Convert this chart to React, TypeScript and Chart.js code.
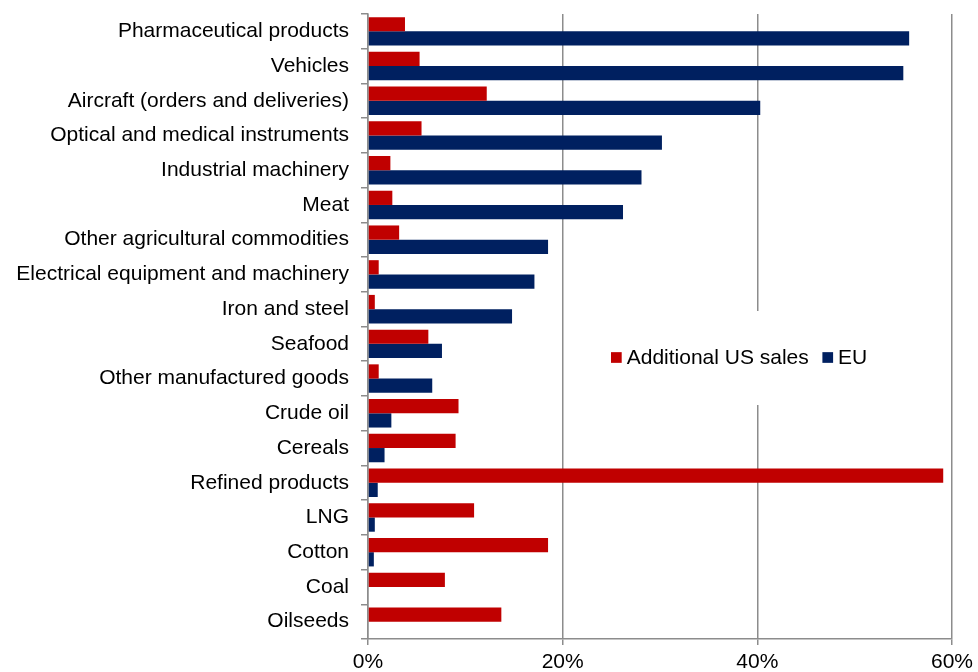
import React, { useEffect, useRef } from 'react';
import { Chart, registerables } from 'chart.js';

Chart.register(...registerables);

const categories: string[] = [
  'Pharmaceutical products',
  'Vehicles',
  'Aircraft (orders and deliveries)',
  'Optical and medical instruments',
  'Industrial machinery',
  'Meat',
  'Other agricultural commodities',
  'Electrical equipment and machinery',
  'Iron and steel',
  'Seafood',
  'Other manufactured goods',
  'Crude oil',
  'Cereals',
  'Refined products',
  'LNG',
  'Cotton',
  'Coal',
  'Oilseeds',
];

const additionalUSSales: number[] = [
  3.8, 5.3, 12.2, 5.5, 2.3, 2.5, 3.2, 1.1, 0.7, 6.2, 1.1, 9.3, 9.0, 59.1, 10.9, 18.5, 7.9, 13.7,
];

const euValues: number[] = [
  55.6, 55.0, 40.3, 30.2, 28.1, 26.2, 18.5, 17.1, 14.8, 7.6, 6.6, 2.4, 1.7, 1.0, 0.7, 0.6, 0, 0,
];

const seriesNames: string[] = ['Additional US sales', 'EU'];
const seriesColors: string[] = ['#C00000', '#002060'];
const xMin = 0;
const xMax = 60;
const xStep = 20;

const FONT = '"Liberation Sans", Arial, Helvetica, sans-serif';
const GRID = '#8c8c8c';

const insideLegend = {
  id: 'insideLegend',
  afterDraw(chart: any) {
    const ctx = chart.ctx as CanvasRenderingContext2D;
    ctx.save();
    ctx.fillStyle = '#ffffff';
    ctx.fillRect(600, 311, 280, 94);
    ctx.font = `21px ${FONT}`;
    ctx.textBaseline = 'middle';
    ctx.textAlign = 'left';
    const cy = 358;
    let x = 611;
    const box = 10.7;
    chart.data.datasets.forEach((ds: any) => {
      ctx.fillStyle = ds.backgroundColor;
      ctx.fillRect(x, cy - box / 2 - 0.5, box, box);
      x += box + 5;
      ctx.fillStyle = '#000000';
      ctx.fillText(ds.label, x, cy);
      x += ctx.measureText(ds.label).width + 13.6;
    });
    ctx.restore();
  },
};

export default function App() {
  const canvasRef = useRef<HTMLCanvasElement | null>(null);

  useEffect(() => {
    if (!canvasRef.current) return;
    const chart = new Chart(canvasRef.current, {
      type: 'bar',
      data: {
        labels: categories,
        datasets: [
          {
            label: seriesNames[0],
            data: additionalUSSales,
            backgroundColor: seriesColors[0],
            borderWidth: 0,
            categoryPercentage: 0.82,
            barPercentage: 1.0,
          },
          {
            label: seriesNames[1],
            data: euValues,
            backgroundColor: seriesColors[1],
            borderWidth: 0,
            categoryPercentage: 0.82,
            barPercentage: 1.0,
          },
        ],
      },
      options: {
        indexAxis: 'y',
        animation: false,
        responsive: true,
        maintainAspectRatio: false,
        layout: { padding: { top: 14, right: 23, left: 0, bottom: 0 } },
        plugins: {
          legend: { display: false },
          tooltip: { enabled: false },
        },
        scales: {
          x: {
            type: 'linear',
            min: xMin,
            max: xMax,
            ticks: {
              stepSize: xStep,
              color: '#000000',
              font: { family: FONT, size: 21 },
              padding: 5,
              callback: (v: any) => `${v}%`,
            },
            grid: {
              color: GRID,
              lineWidth: 1.5,
              drawOnChartArea: true,
              drawTicks: true,
              tickLength: 6,
            },
            border: { display: true, color: GRID, width: 1.5 },
            afterFit: (scale: any) => {
              scale.height = 33;
            },
          },
          y: {
            type: 'category',
            ticks: {
              color: '#000000',
              font: { family: FONT, size: 21 },
              padding: 12,
              autoSkip: false,
            },
            grid: {
              color: GRID,
              lineWidth: 1.5,
              drawOnChartArea: false,
              drawTicks: true,
              tickLength: 7,
              offset: true,
            },
            border: { display: true, color: GRID, width: 1.5 },
            afterFit: (scale: any) => {
              scale.width = 368;
              scale.paddingTop = 0;
              scale.paddingBottom = 0;
            },
          },
        },
      },
      plugins: [insideLegend],
    });
    return () => chart.destroy();
  }, []);

  return (
    <div style={{ position: 'fixed', left: 0, top: 0, width: 978, height: 672, background: '#ffffff' }}>
      <canvas ref={canvasRef} />
    </div>
  );
}
